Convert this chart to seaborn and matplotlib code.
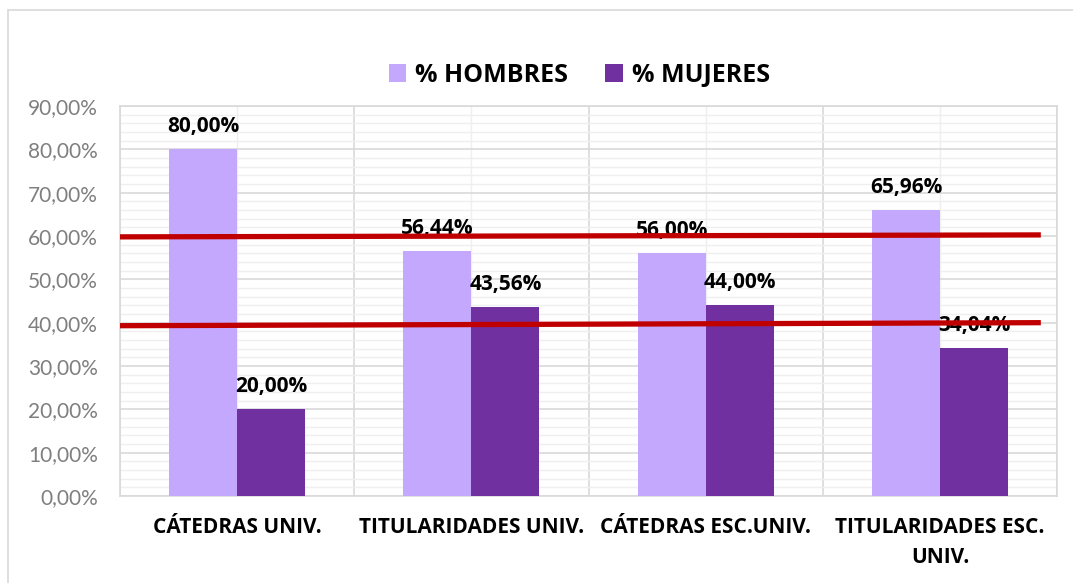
import numpy as np
import pandas as pd
import seaborn as sns
import matplotlib.pyplot as plt
from matplotlib.ticker import MultipleLocator, FuncFormatter
from matplotlib.lines import Line2D

#### Data
categorias = ["CÁTEDRAS UNIV.", "TITULARIDADES UNIV.", "CÁTEDRAS ESC.UNIV.",
              "TITULARIDADES ESC.\nUNIV."]
hombres = [80.00, 56.44, 56.00, 65.96]
mujeres = [20.00, 43.56, 44.00, 34.04]
series = ["% HOMBRES", "% MUJERES"]
colores = ["#C4A8FD", "#7030A0"]

# red reference lines drawn over the chart (start / end level, %)
linea_alta = [59.8, 60.25]
linea_baja = [39.3, 40.0]

df = pd.DataFrame({
    "cat": categorias * 2,
    "val": hombres + mujeres,
    "serie": [series[0]] * 4 + [series[1]] * 4,
})

#### Plot
sns.set_theme(style="white")
plt.rcParams["font.family"] = ["Lato", "DejaVu Sans"]
plt.rcParams["text.color"] = "black"
negrita = ["Open Sans", "DejaVu Sans"]

fig = plt.figure(figsize=(10.73, 5.83), dpi=100)
ax = fig.add_axes([0.1118, 0.1492, 0.8735, 0.669])

sns.barplot(data=df, x="cat", y="val", hue="serie", palette=colores,
            width=0.58, gap=0, saturation=1, linewidth=0, ax=ax, zorder=3)

ax.set_ylim(0, 90)
ax.set_xlim(-0.5, 3.5)
ax.yaxis.set_major_locator(MultipleLocator(10))
ax.yaxis.set_minor_locator(MultipleLocator(2))
ax.yaxis.set_major_formatter(FuncFormatter(lambda v, p: f"{v:.2f}%".replace(".", ",")))
ax.set_xticks(np.arange(len(categorias)))
ax.set_xticks(np.arange(-0.5, len(categorias)), minor=True)

# grid
ax.grid(True, which="major", axis="y", color="#D9D9D9", lw=1.2, zorder=0)
ax.grid(True, which="minor", axis="y", color="#EFEFEF", lw=1.0, zorder=0)
ax.grid(True, which="major", axis="x", color="#EFEFEF", lw=1.0, zorder=0)
ax.grid(True, which="minor", axis="x", color="#D9D9D9", lw=1.2, zorder=0)
ax.set_axisbelow(True)
for s in ax.spines.values():
    s.set_color("#D9D9D9")
    s.set_linewidth(1.2)

ax.tick_params(axis="both", which="both", length=0)
ax.tick_params(axis="y", labelsize=15, labelcolor="#7F7F7F", pad=16)
ax.tick_params(axis="x", pad=15, labelcolor="black")
for t in ax.get_xticklabels():
    t.set_fontweight("bold")
    t.set_family(negrita)
    t.set_fontsize(15)
    t.set_linespacing(1.55)
ax.set_xlabel("")
ax.set_ylabel("")

# data labels
for cont in ax.containers:
    for bar in cont:
        h = bar.get_height()
        ax.annotate(f"{h:.2f}%".replace(".", ","),
                    (bar.get_x() + bar.get_width() / 2, h),
                    xytext=(0, 9), textcoords="offset points",
                    ha="center", va="bottom", fontsize=15, fontweight="bold",
                    family=negrita, color="black", zorder=4)

# red lines
for nivel in (linea_alta, linea_baja):
    ax.add_line(Line2D([-0.5, 3.43], nivel, color="#C00000", lw=3.8,
                       zorder=5, solid_capstyle="butt"))

# legend
sns.move_legend(ax, "center", bbox_to_anchor=(0.49, 1.079), ncol=2,
                frameon=False, title=None, handlelength=0.7, handleheight=0.7,
                handletextpad=0.35, columnspacing=1.5,
                prop={"weight": "bold", "size": 18, "family": negrita})
for t in ax.get_legend().get_texts():
    t.set_color("black")

# chart border (left and top)
fig.add_artist(Line2D([0.0075, 0.0075], [0, 0.983], color="#D9D9D9", lw=1.2))
fig.add_artist(Line2D([0.0075, 1.0], [0.983, 0.983], color="#D9D9D9", lw=1.2))

fig.savefig("out.png", dpi=100)
